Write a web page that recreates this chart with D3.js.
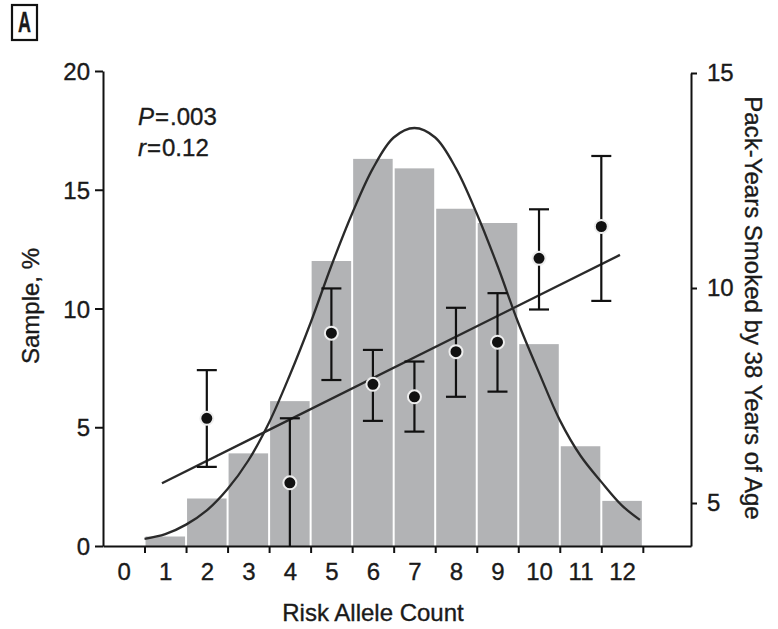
<!DOCTYPE html>
<meta charset="utf-8">
<style>
    body { margin: 0; background: #fff; }
    svg text { font-family: "Liberation Sans", Arial, sans-serif; fill: #1a1a1a; stroke: #1a1a1a; stroke-width: 0.35px; }
    .axis path, .axis line { stroke: #111; stroke-width: 2px; }
    .axis text { font-size: 24px; }
</style>
<svg width="778" height="629"></svg>
<script src="https://d3js.org/d3.v7.min.js"></script>
<script>
    // risk allele count categories and % of sample (histogram)
    var alleleCounts = [0, 1, 2, 3, 4, 5, 6, 7, 8, 9, 10, 11, 12];
    var samplePct = [0, 0.4, 2.0, 3.9, 6.1, 12.0, 16.3, 15.9, 14.2, 13.6, 8.5, 4.2, 1.9];

    // fitted distribution curve (x = allele count, y = %)
    var curveX = [0.5, 1, 1.5, 2, 2.5, 3, 3.5, 4, 4.5, 5, 5.5, 6, 6.5, 7,
                  7.5, 8, 8.5, 9, 9.5, 10, 10.5, 11, 11.5, 12, 12.43];
    var curveY = [0.3, 0.5, 0.9, 1.5, 2.4, 3.6, 5.2, 7.2, 9.4, 11.8, 14.0, 15.9, 17.2, 17.6,
                  17.2, 15.9, 14.0, 11.8, 9.4, 7.3, 5.3, 3.8, 2.7, 1.7, 1.1];

    // pack-years smoked by 38 (mean with error bars)
    var pyX = [2, 4, 5, 6, 7, 8, 9, 10, 11.5];
    var pyMean = [6.97, 5.47, 8.95, 7.76, 7.47, 8.52, 8.74, 10.69, 11.43];
    var pyLow = [5.84, 3.97, 7.86, 6.91, 6.66, 7.47, 7.59, 9.50, 9.70];
    var pyHigh = [8.09, 6.97, 9.99, 8.56, 8.29, 9.54, 9.88, 11.83, 13.07];

    // regression line end points (x = allele count, y = pack-years)
    var fitX = [0.92, 11.95];
    var fitY = [5.46, 10.77];

    var leftTicks = [0, 5, 10, 15, 20];
    var rightTicks = [5, 10, 15];

    var svg = d3.select("svg");

    var x = d3.scaleLinear().domain([-0.5, 13.66]).range([103, 691]);
    var yL = d3.scaleLinear().domain([0, 20]).range([546, 71]);
    var yR = d3.scaleLinear().domain([4, 15]).range([546, 73]);

    svg.append("defs").append("clipPath").attr("id", "plot")
        .append("rect").attr("x", 103).attr("y", 60).attr("width", 588).attr("height", 486);

    // bars
    svg.append("g").selectAll("rect")
        .data(alleleCounts.filter(function(d) { return samplePct[d] > 0; }))
        .enter().append("rect")
        .attr("x", function(d) { return x(d - 0.5) + 1; })
        .attr("width", function(d) { return x(d + 0.5) - x(d - 0.5) - 2; })
        .attr("y", function(d) { return yL(samplePct[d]); })
        .attr("height", function(d) { return yL(0) - yL(samplePct[d]); })
        .attr("fill", "#b2b3b5");

    // distribution curve
    var curvePts = curveX.map(function(d, i) { return [d, curveY[i]]; });
    svg.append("path")
        .datum(curvePts)
        .attr("fill", "none")
        .attr("stroke", "#2a2a2a")
        .attr("stroke-width", 2.3)
        .attr("d", d3.line()
            .x(function(d) { return x(d[0]); })
            .y(function(d) { return yL(d[1]); })
            .curve(d3.curveCatmullRom));

    // regression line
    svg.append("line")
        .attr("x1", x(fitX[0])).attr("y1", yR(fitY[0]))
        .attr("x2", x(fitX[1])).attr("y2", yR(fitY[1]))
        .attr("stroke", "#2a2a2a")
        .attr("stroke-width", 2.3);

    // error bars
    var eb = svg.append("g").attr("clip-path", "url(#plot)")
        .attr("stroke", "#111").attr("stroke-width", 2.2);
    pyX.forEach(function(d, i) {
        eb.append("line")
            .attr("x1", x(d)).attr("x2", x(d))
            .attr("y1", yR(pyLow[i])).attr("y2", yR(pyHigh[i]));
        [pyLow[i], pyHigh[i]].forEach(function(v) {
            eb.append("line")
                .attr("x1", x(d) - 10).attr("x2", x(d) + 10)
                .attr("y1", yR(v)).attr("y2", yR(v));
        });
    });

    // means
    svg.append("g").selectAll("circle")
        .data(pyX)
        .enter().append("circle")
        .attr("cx", function(d) { return x(d); })
        .attr("cy", function(d, i) { return yR(pyMean[i]); })
        .attr("r", 6.5)
        .attr("fill", "#111")
        .attr("stroke", "#eee")
        .attr("stroke-width", 2);

    // axes
    svg.append("g")
        .attr("class", "axis")
        .attr("transform", "translate(103,0)")
        .call(d3.axisLeft(yL).tickValues(leftTicks).tickSize(8).tickSizeOuter(0).tickPadding(5))
        .selectAll("text").attr("dy", "0.36em");

    svg.append("g")
        .attr("class", "axis")
        .attr("transform", "translate(691,0)")
        .call(d3.axisRight(yR).tickValues(rightTicks).tickSize(6).tickSizeOuter(0).tickPadding(10));

    svg.append("g")
        .attr("class", "axis")
        .attr("transform", "translate(0,546)")
        .call(d3.axisBottom(x)
            .tickValues(alleleCounts.map(function(d) { return d + 0.5; }))
            .tickSize(7).tickSizeOuter(0).tickFormat(""));

    svg.append("g")
        .attr("class", "axis")
        .attr("transform", "translate(0,546)")
        .call(d3.axisBottom(x).tickValues(alleleCounts).tickSize(0).tickPadding(17))
        .call(function(g) { g.select(".domain").remove(); });

    svg.selectAll(".axis text").attr("fill", "#1a1a1a");

    // axis titles
    svg.append("text")
        .attr("x", 373).attr("y", 621)
        .attr("text-anchor", "middle")
        .style("font-size", "24px")
        .text("Risk Allele Count");

    svg.append("text")
        .attr("transform", "translate(39,306) rotate(-90)")
        .attr("text-anchor", "middle")
        .style("font-size", "24px")
        .text("Sample, %");

    svg.append("text")
        .attr("transform", "translate(745,308) rotate(90)")
        .attr("text-anchor", "middle")
        .style("font-size", "24px")
        .text("Pack-Years Smoked by 38 Years of Age");

    // stats
    var p = svg.append("text").attr("x", 138).attr("y", 125).style("font-size", "24px");
    p.append("tspan").style("font-style", "italic").text("P");
    p.append("tspan").attr("dx", 1).text("=");
    p.append("tspan").attr("dx", 1).text(".003");
    var r = svg.append("text").attr("x", 138).attr("y", 156).style("font-size", "24px");
    r.append("tspan").style("font-style", "italic").text("r");
    r.append("tspan").attr("dx", 1).text("=");
    r.append("tspan").attr("dx", 1).text("0.12");

    // panel label
    svg.append("rect")
        .attr("x", 12).attr("y", 5).attr("width", 25).attr("height", 35)
        .attr("fill", "none").attr("stroke", "#111").attr("stroke-width", 2.2);
    svg.append("text")
        .attr("transform", "translate(24.5,32) scale(0.62,1)")
        .attr("text-anchor", "middle")
        .style("font-size", "29px")
        .style("font-weight", "bold")
        .text("A");
</script>
